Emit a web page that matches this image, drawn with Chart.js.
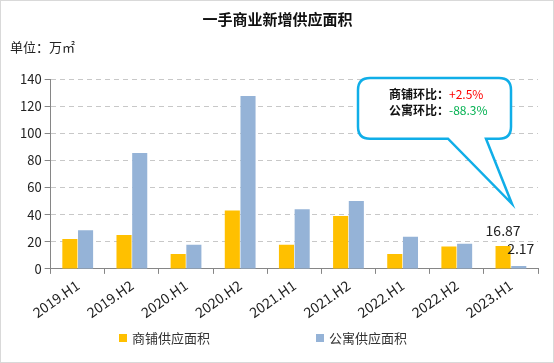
<!DOCTYPE html>
<html>
<head>
<meta charset="utf-8">
<script src="https://cdn.jsdelivr.net/npm/chart.js@4/dist/chart.umd.min.js"></script>
<style>
  html, body { margin: 0; padding: 0; background: #fff; }
  #wrap { position: relative; width: 554px; height: 363px; box-sizing: border-box; border: 1px solid #d9d9d9; }
  canvas { display: block; }
</style>
</head>
<body>
<div id="wrap"><canvas id="supplyChart" width="552" height="361"></canvas></div>
<script>
// data
var periods = ["2019.H1", "2019.H2", "2020.H1", "2020.H2", "2021.H1", "2021.H2", "2022.H1", "2022.H2", "2023.H1"];
var shopArea = [22, 25, 11, 43, 17.7, 39, 11, 16.46, 16.87];
var aptArea = [28.5, 85.5, 17.7, 127.5, 44, 50, 23.6, 18.55, 2.17];
var yTicks = [0, 20, 40, 60, 80, 100, 120, 140];
var seriesNames = ["商铺供应面积", "公寓供应面积"];
var seriesColors = ["#FFC000", "#95B3D7"];
var calloutLines = [["商铺环比：", "+2.5%"], ["公寓环比：", "-88.3%"]];

var FONT = "'Noto Sans CJK SC', 'Noto Sans', sans-serif";

// unit text, legend, value labels and the callout box
var extras = {
    id: 'extras',
    afterDraw: function(chart) {
        var ctx = chart.ctx;
        var x = chart.scales.x, y = chart.scales.y;
        ctx.save();

        ctx.fillStyle = '#222';
        ctx.font = '13px ' + FONT;
        ctx.textAlign = 'left';
        ctx.textBaseline = 'middle';
        ctx.fillText('单位：万㎡', 9, 46);

        // legend
        var legY = 337;
        var legX = [118, 315];
        ctx.font = '13px ' + FONT;
        for (var i = 0; i < seriesNames.length; i++) {
            ctx.fillStyle = seriesColors[i];
            ctx.fillRect(legX[i], legY - 4, 8, 8);
            ctx.fillStyle = '#333';
            ctx.fillText(seriesNames[i], legX[i] + 13, legY);
        }

        // labels for the last period
        var last = periods.length - 1;
        ctx.font = '14px ' + FONT;
        ctx.fillStyle = '#222';
        ctx.textAlign = 'center';
        ctx.textBaseline = 'bottom';
        var b0 = chart.getDatasetMeta(0).data[last];
        var b1 = chart.getDatasetMeta(1).data[last];
        ctx.fillText(shopArea[last].toFixed(2), b0.x, b0.y - 8);
        ctx.fillText(aptArea[last].toFixed(2), b1.x + 2, b1.y - 10);

        // callout
        var tipX = x.getPixelForValue(last);
        var tipY = y.getPixelForValue(48);
        var l = 357, r = 510, t = y.getPixelForValue(140) - 1, bt = y.getPixelForValue(96), rad = 12;
        var s1 = 447, s2 = 485;
        ctx.beginPath();
        ctx.moveTo(l + rad, t);
        ctx.lineTo(r - rad, t);
        ctx.quadraticCurveTo(r, t, r, t + rad);
        ctx.lineTo(r, bt - rad);
        ctx.quadraticCurveTo(r, bt, r - rad, bt);
        ctx.lineTo(s2, bt);
        ctx.lineTo(tipX + 1, tipY);
        ctx.lineTo(s1, bt);
        ctx.lineTo(l + rad, bt);
        ctx.quadraticCurveTo(l, bt, l, bt - rad);
        ctx.lineTo(l, t + rad);
        ctx.quadraticCurveTo(l, t, l + rad, t);
        ctx.closePath();
        ctx.fillStyle = '#fff';
        ctx.fill();
        ctx.lineWidth = 2.5;
        ctx.strokeStyle = '#10AEE8';
        ctx.stroke();

        ctx.textAlign = 'left';
        ctx.textBaseline = 'middle';
        var colors = ['#FF0000', '#00B050'];
        for (var k = 0; k < calloutLines.length; k++) {
            var ly = t + 16 + k * 16;
            ctx.font = 'bold 12px ' + FONT;
            var w1 = ctx.measureText(calloutLines[k][0]).width;
            ctx.fillStyle = '#111';
            ctx.fillText(calloutLines[k][0], 388, ly);
            ctx.font = '12px ' + FONT;
            ctx.fillStyle = colors[k];
            ctx.fillText(calloutLines[k][1], 388 + w1, ly);
        }
        ctx.restore();
    }
};

var ctx = document.getElementById('supplyChart').getContext('2d');
var supplyChart = new Chart(ctx, {
    type: 'bar',
    data: {
        labels: periods,
        datasets: [{
            label: seriesNames[0],
            data: shopArea,
            backgroundColor: seriesColors[0],
            borderWidth: 0
        }, {
            label: seriesNames[1],
            data: aptArea,
            backgroundColor: seriesColors[1],
            borderWidth: 0
        }]
    },
    options: {
        responsive: false,
        animation: false,
        categoryPercentage: 0.58,
        barPercentage: 0.96,
        layout: { padding: { left: 16, right: 15, top: 0, bottom: 38 } },
        plugins: {
            legend: { display: false },
            tooltip: { enabled: false },
            title: {
                display: true,
                text: '一手商业新增供应面积',
                color: '#111',
                font: { family: FONT, size: 15, weight: 'bold' },
                padding: { top: 9, bottom: 51 }
            }
        },
        scales: {
            x: {
                grid: { display: true, drawOnChartArea: false, drawTicks: true, tickLength: 5, color: '#868686', offset: true },
                border: { display: true, color: '#868686', width: 1 },
                ticks: {
                    color: '#222',
                    font: { family: FONT, size: 14 },
                    minRotation: 35,
                    maxRotation: 35,
                    padding: 3
                }
            },
            y: {
                min: 0,
                max: 140,
                afterBuildTicks: function(scale) {
                    scale.ticks = yTicks.map(function(v) { return { value: v }; });
                },
                grid: { color: '#c8c8c8', tickColor: '#868686', tickLength: 6, tickBorderDash: [], lineWidth: 1 },
                border: { display: true, color: '#868686', width: 1, dash: [5, 4] },
                ticks: {
                    color: '#222',
                    font: { family: FONT, size: 13 },
                    padding: 3
                }
            }
        }
    },
    plugins: [extras]
});
</script>
</body>
</html>
